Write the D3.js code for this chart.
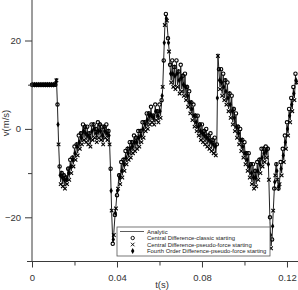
<!DOCTYPE html>
<html>
<head>
<meta charset="utf-8">
<script src="https://cdn.jsdelivr.net/npm/d3@7"></script>
<style>
  body { margin: 0; background: #fff; }
  svg { display: block; }
</style>
</head>
<body>
<svg id="chart"></svg>
<script>
// analytic solution, sampled every 0.0005 s from t = 0
const analyticStep = 0.0005
const analytic = [
  10, 10, 10, 10, 10, 10, 10, 10, 10, 10,
  10, 10, 10, 10, 10, 10, 10, 10, 10, 10,
  10, 10, 10, 11.5, 5, -3, -9, -12, -9.5, -12.5,
  -10, -13, -10.5, -12, -8.5, -11, -7.5, -9.5, -6, -8,
  -4.5, -6.5, -3, -5.5, -2, -4, -0.5, -3, 0.5, -2,
  1, -2.5, 0, -3, -0.5, -3.5, 0.5, -2, 1.5, -1.5,
  0.5, -2.5, 1, -1.5, 1.5, -2, 0, -3, 1, -1.5,
  0.5, -2, 0, -3, -10, -19, -25.5, -23.5, -20, -17.5,
  -14.5, -13, -10, -12, -8, -10.5, -6.5, -9, -5.5, -7.5,
  -4, -6.5, -3.5, -6, -2.5, -5, -2, -4.5, -1.5, -4,
  -1, -3.5, 0, -2.5, 1, -1.5, 2, 0, 3, 0.5,
  4, 1.5, 4.5, 2, 3.5, 1.5, 5, 2.5, 4.5, 2,
  5, 3, 6, 9, 16, 23, 25.5, 24, 21, 18,
  14, 11, 15, 10, 14.5, 9.5, 15, 10, 13.5, 8.5,
  14, 9, 12.5, 8, 12, 7, 10, 5.5, 8, 4,
  6.5, 2.5, 5, 1, 3.5, 0, 2.5, -1, 1.5, -2,
  0.5, -2.5, 0, -3, -0.5, -3.5, -1, -4, -1.5, -4.5,
  -2, -5, -2.5, -5.5, -3, 17, 13, 9.5, 13, 8,
  12, 7, 11.5, 6, 10, 4.5, 8.5, 3, 7, 1.5,
  5, 0, 3, -1.5, 1, -3, -0.5, -4.5, -2, -6,
  -3.5, -7.5, -5, -9, -6, -10.5, -7.5, -12, -8.5, -13,
  -9, -12.5, -8, -11, -6.5, -9.5, -5, -8, -4, -7,
  -4.5, -6, -4, -12, -21, -26.5, -24.5, -19, -14, -10,
  -7.5, -11, -14, -12, -8, -10, -5, -7, -2, -4,
  1, -1, 4, 2, 6.5, 4.5, 9, 7, 12, 10
]

// numerical results, every 0.001 s (each with its own start time)
const numStep = 0.001
const classicStart = 0
const classic = [
  10, 10, 10, 10, 10, 10, 10, 10, 10, 10,
  10, 10, 5.5, -8.5, -10, -10.5, -11, -9, -7, -6.5,
  -4, -3.5, -1.5, -1, 1, 0.5, 0.5, -1, 1, 1,
  0, 1.5, 1, 0.5, 0.5, 1, -0.5, -9, -26, -19.5,
  -15, -10.5, -7.5, -7, -5, -4.5, -3, -3, -1.5, -2,
  -0.5, -0.5, 1.5, 1.5, 3.5, 3.5, 5, 3, 5.5, 4,
  5.5, 6.5, 15.5, 26, 20.5, 14.5, 15.5, 14, 15.5, 13,
  14.5, 12, 12.5, 9.5, 8.5, 6, 5.5, 3, 3, 1,
  1, -0.5, 0, -1.5, -1, -2.5, -2, -3.5, 13.5, 13.5,
  12.5, 11, 10.5, 8, 7.5, 4.5, 3.5, 0.5, 0, -2.5,
  -3, -5.5, -5.5, -8, -8, -9.5, -7.5, -7, -4.5, -4.5,
  -4, -4.5, -20, -25, -13.5, -8, -13.5, -7.5, -4.5, -1.5,
  1.5, 4.5, 7, 9.5, 12.5
]
const pseudoStart = 0.0005
const pseudo = [
  10, 10, 10, 10, 10, 10, 10, 10, 10, 10,
  10, 11, -3.5, -12.5, -13, -13.5, -12.5, -11.5, -10, -8.5,
  -7, -6, -4.5, -3.5, -2.5, -3, -3.5, -4, -2.5, -2,
  -3, -2, -2.5, -3.5, -2, -2.5, -3.5, -18.5, -24, -18,
  -13.5, -12.5, -11, -9.5, -8, -7, -6.5, -5.5, -5, -4.5,
  -4, -3, -2, -0.5, 0, 1, 1.5, 1, 2, 1.5,
  2.5, 9.5, 23.5, 24.5, 17.5, 10.5, 9.5, 9, 9.5, 8,
  8.5, 7.5, 6.5, 5, 3.5, 2, 0.5, -0.5, -1.5, -2.5,
  -3, -3.5, -4, -4.5, -5, -5.5, -6, 16.5, 9, 7.5,
  6.5, 5.5, 4, 2.5, 1, -0.5, -2, -3.5, -5, -6.5,
  -8, -9.5, -11, -12.5, -13.5, -13, -11.5, -10, -8.5, -7.5,
  -6.5, -11.5, -27, -18.5, -10.5, -11.5, -12.5, -10.5, -7.5, -4.5,
  -1.5, 1.5, 4, 6.5, 10.5
]
const fourthStart = 0.00025
const fourth = [
  10, 10, 10, 10, 10, 10, 10, 10, 10, 10,
  10, 10.5, 1, -10.5, -11, -11.5, -11.5, -10, -8.5, -7,
  -5.5, -4, -3, -2, -0.5, -1, -1.5, -2, -0.5, 0,
  -1, -0.5, -0.5, -1.5, -0.5, -1, -1.5, -14, -25, -19,
  -14, -11, -9.5, -8, -6.5, -5.5, -4.5, -4, -3, -3,
  -2, -1.5, 0, 1, 2, 3, 3, 2.5, 4, 3,
  4, 7.5, 19.5, 25, 19.5, 12.5, 12.5, 12, 12.5, 11,
  11.5, 10, 9.5, 7.5, 6, 4.5, 3, 1.5, 0.5, -0.5,
  -1, -1.5, -2, -2.5, -3, -3.5, -4, 7, 11, 10.5,
  9.5, 8.5, 7, 5.5, 4, 2.5, 0.5, -1, -2.5, -4,
  -5.5, -7, -8.5, -10, -11, -11, -9.5, -8, -6.5, -5.5,
  -5, -8, -24, -22, -12, -9.5, -13, -9, -6, -3,
  0, 3, 5.5, 8, 11
]

const xMajor = [0, 0.04, 0.08, 0.12]
const xMinor = [0.02, 0.06, 0.1]
const yMajor = [-20, 0, 20]
const yMinor = [-10, 10]
const legendLabels = [
  'Analytic',
  'Central Difference-classic starting',
  'Central Difference-pseudo-force starting',
  'Fourth Order Difference-pseudo-force starting'
]

const width = 298
const height = 290
const font = 'Arial, "Liberation Sans", Helvetica, sans-serif'
const axisColor = '#3a3a3a'

const svg = d3
  .select('#chart')
  .attr('width', width)
  .attr('height', height)
  .attr('viewBox', [0, 0, width, height])

/// Scales////////////////////////////////
const xScale = d3.scaleLinear().domain([0, 0.125]).range([32, 297.6])
const yScale = d3.scaleLinear().domain([-30, 30]).range([261.5, -3.7])
const yBase = yScale(-30)

const toPoints = (values, start, step) =>
  values.map((v, i) => ({ t: start + i * step, v: v }))

// analytic line
svg
  .append('path')
  .datum(toPoints(analytic, 0, analyticStep))
  .attr('fill', 'none')
  .attr('stroke', '#222')
  .attr('stroke-width', 1)
  .attr('d', d3.line().x(d => xScale(d.t)).y(d => yScale(d.v)))

// markers
const series = [
  { data: toPoints(classic, classicStart, numStep), type: d3.symbolCircle, size: 9, fill: 'none', stroke: '#000' },
  { data: toPoints(pseudo, pseudoStart, numStep), type: d3.symbolTimes, size: 10, fill: 'none', stroke: '#000' },
  { data: toPoints(fourth, fourthStart, numStep), type: d3.symbolDiamond, size: 10, fill: '#000', stroke: 'none' }
]

series.forEach(s => {
  svg
    .append('g')
    .selectAll('path')
    .data(s.data)
    .join('path')
    .attr('transform', d => 'translate(' + xScale(d.t) + ',' + yScale(d.v) + ')')
    .attr('d', d3.symbol().type(s.type).size(s.size))
    .attr('fill', s.fill)
    .attr('stroke', s.stroke)
    .attr('stroke-width', 1.1)
})

// draw axis
svg
  .append('g')
  .attr('transform', 'translate(0,' + yBase + ')')
  .call(
    d3
      .axisBottom(xScale)
      .tickValues(xMajor)
      .tickSize(6)
      .tickPadding(7)
      .tickFormat(d => (d === 0 ? '0' : d3.format('.2f')(d)))
  )
  .call(g => g.select('.domain').remove())

svg
  .append('g')
  .attr('transform', 'translate(0,' + yBase + ')')
  .call(d3.axisBottom(xScale).tickValues(xMinor).tickSize(4).tickFormat(''))
  .call(g => g.select('.domain').remove())

svg
  .append('g')
  .attr('transform', 'translate(32,0)')
  .call(d3.axisLeft(yScale).tickValues(yMajor).tickSize(7).tickPadding(4))
  .call(g => g.select('.domain').remove())

svg
  .append('g')
  .attr('transform', 'translate(32,0)')
  .call(d3.axisLeft(yScale).tickValues(yMinor).tickSize(4).tickFormat(''))
  .call(g => g.select('.domain').remove())

svg.selectAll('.tick line').attr('stroke', axisColor)
svg
  .selectAll('.tick text')
  .attr('font-family', font)
  .attr('font-size', 9.5)
  .attr('fill', '#333')

// axis lines
svg
  .append('line')
  .attr('x1', 32)
  .attr('x2', 32)
  .attr('y1', 0)
  .attr('y2', yBase)
  .attr('stroke', axisColor)
svg
  .append('line')
  .attr('x1', 27)
  .attr('x2', width)
  .attr('y1', yBase)
  .attr('y2', yBase)
  .attr('stroke', axisColor)

/// /text labels////////////////////////////////
svg
  .append('text')
  .text('t(s)')
  .attr('x', 162)
  .attr('y', 287.5)
  .attr('text-anchor', 'middle')
  .attr('font-family', font)
  .attr('font-size', 9.5)
  .attr('fill', '#333')

svg
  .append('text')
  .text('v(m/s)')
  .attr('transform', 'translate(8.5,123) rotate(-90)')
  .attr('text-anchor', 'middle')
  .attr('font-family', font)
  .attr('font-size', 9.5)
  .attr('fill', '#333')

// legend
const legend = svg.append('g')
legend
  .append('rect')
  .attr('x', 117)
  .attr('y', 227)
  .attr('width', 153)
  .attr('height', 29)
  .attr('fill', '#fff')
  .attr('stroke', '#555')
  .attr('stroke-width', 0.8)

const rowY = [231.5, 238, 244.5, 251]

legend
  .append('line')
  .attr('x1', 120)
  .attr('x2', 144)
  .attr('y1', rowY[0])
  .attr('y2', rowY[0])
  .attr('stroke', '#333')
  .attr('stroke-width', 0.8)

series.forEach((s, i) => {
  legend
    .append('path')
    .attr('transform', 'translate(132.7,' + rowY[i + 1] + ')')
    .attr('d', d3.symbol().type(s.type).size(s.size))
    .attr('fill', s.fill)
    .attr('stroke', s.stroke)
    .attr('stroke-width', 0.9)
})

legend
  .selectAll('.legend-text')
  .data(legendLabels)
  .join('text')
  .attr('class', 'legend-text')
  .text(d => d)
  .attr('x', 147)
  .attr('y', (d, i) => rowY[i] + 2.1)
  .attr('font-family', font)
  .attr('font-size', 5.9)
  .attr('fill', '#222')
</script>
</body>
</html>
